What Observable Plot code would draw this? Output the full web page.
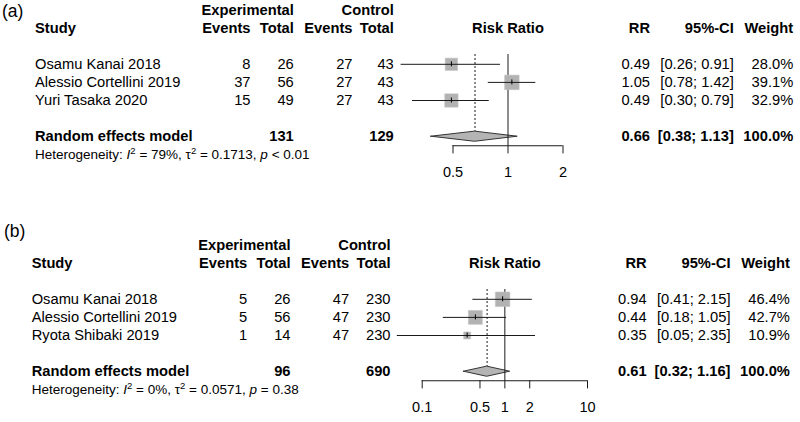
<!DOCTYPE html>
<html><head><meta charset="utf-8">
<script src="https://cdn.jsdelivr.net/npm/d3@7"></script>
<script src="https://cdn.jsdelivr.net/npm/@observablehq/plot@0.6"></script>
<style>
body{margin:0;background:#fff;font-family:"Liberation Sans",Arial,sans-serif;}
.panel{position:relative;width:800px;height:211px;overflow:hidden;}
.lab{position:absolute;font-size:17.5px;line-height:1;color:#000;}
svg{display:block}
</style></head><body>
<div id="pa" class="panel"><div class="lab" style="left:2px;top:3px">(a)</div></div>
<div id="pb" class="panel"><div class="lab" style="left:4px;top:12px">(b)</div></div>
<script>
// ---- Panel (a) data ----
const studiesA = ["Osamu Kanai 2018", "Alessio Cortellini 2019", "Yuri Tasaka 2020"];
const expEventsA = [8, 37, 15];
const expTotalA = [26, 56, 49];
const ctrlEventsA = [27, 27, 27];
const ctrlTotalA = [43, 43, 43];
const rrA = [0.49, 1.05, 0.49];
const lowerA = [0.26, 0.78, 0.30];
const upperA = [0.91, 1.42, 0.79];
const weightA = [28.0, 39.1, 32.9];
const pooledA = [0.66, 0.38, 1.13];      // RR, lower, upper
const pooledTotalsA = [131, 129];        // experimental, control
const hetA = ["79%", "0.1713", "< 0.01"]; // I2, tau2, p
const ticksA = [0.5, 1, 2];

// ---- Panel (b) data ----
const studiesB = ["Osamu Kanai 2018", "Alessio Cortellini 2019", "Ryota Shibaki 2019"];
const expEventsB = [5, 5, 1];
const expTotalB = [26, 56, 14];
const ctrlEventsB = [47, 47, 47];
const ctrlTotalB = [230, 230, 230];
const rrB = [0.94, 0.44, 0.35];
const lowerB = [0.41, 0.18, 0.05];
const upperB = [2.15, 1.05, 2.35];
const weightB = [46.4, 42.7, 10.9];
const pooledB = [0.61, 0.32, 1.16];
const pooledTotalsB = [96, 690];
const hetB = ["0%", "0.0571", "= 0.38"];
const ticksB = [0.1, 0.5, 1, 2, 10];

const nullValue = 1;

function forest(cfg) {
  const {names, ee, et, ce, ct, rr, lo, hi, w, pooled, totals, het, ticks, xDomain, xRange, yTop, shift} = cfg;
  const rows = names.map((n, i) => ({i, name: n, ee: ee[i], et: et[i], ce: ce[i], ct: ct[i], rr: rr[i], lo: lo[i], hi: hi[i], w: w[i]}));
  const P = names.length + 1; // pooled row index
  const ci = (a, b) => `[${a.toFixed(2)}; ${b.toFixed(2)}]`;
  const cols = [
    {x: 34.5, anchor: "start", h1: null, h2: "Study", f: r => r.name, p: "Random effects model"},
    {x: 250, anchor: "end", h1: null, h2: "Events", f: r => String(r.ee), p: ""},
    {x: 293.3, anchor: "end", h1: "Experimental", h2: "Total", f: r => String(r.et), p: String(totals[0])},
    {x: 352, anchor: "end", h1: null, h2: "Events", f: r => String(r.ce), p: ""},
    {x: 393.3, anchor: "end", h1: "Control", h2: "Total", f: r => String(r.ct), p: String(totals[1])},
    {x: 649.5, anchor: "end", h1: null, h2: "RR", f: r => r.rr.toFixed(2), p: pooled[0].toFixed(2)},
    {x: 733.3, anchor: "end", h1: null, h2: "95%-CI", f: r => ci(r.lo, r.hi), p: ci(pooled[1], pooled[2])},
    {x: 792.7, anchor: "end", h1: null, h2: "Weight", f: r => r.w.toFixed(1) + "%", p: "100.0%"}
  ];
  const fs = 14.7;
  const textMarks = [];
  for (const c of cols) {
    const cells = [];
    if (c.h1) cells.push({y: -3, t: c.h1, b: true});
    cells.push({y: -2, t: c.h2, b: true});
    for (const r of rows) cells.push({y: r.i, t: c.f(r), b: false});
    if (c.p) cells.push({y: P, t: c.p, b: true});
    for (const bold of [true, false]) {
      textMarks.push(Plot.text(cells.filter(d => d.b === bold), {
        y: "y", text: "t", frameAnchor: "left", dx: c.x + shift, textAnchor: c.anchor,
        fontSize: fs, fontWeight: bold ? "bold" : "normal", fill: "#000"
      }));
    }
  }
  const hetText = `Heterogeneity: I2 = ${het[0]}, τ2 = ${het[1]}, p ${het[2]}`;
  const h = 0.28;
  const diamond = [
    {x: pooled[1], y1: P, y2: P},
    {x: pooled[0], y1: P - h, y2: P + h},
    {x: pooled[2], y1: P, y2: P}
  ];
  const ln = "#1a1a1a";
  const plot = Plot.plot({
    width: 800, height: 211, margin: 0,
    style: {fontFamily: "'Liberation Sans', Arial, sans-serif", background: "white", overflow: "visible"},
    x: {type: "log", domain: xDomain, range: xRange, axis: null},
    y: {type: "linear", domain: [0, 4], range: [yTop, yTop + 4 * 18.1], axis: null},
    r: {type: "sqrt", domain: [0, d3.max(w)], range: [0, 8.2]},
    marks: [
      ...textMarks,
      Plot.text([hetText], {y: () => P + 1, text: d => d, frameAnchor: "left", dx: 34.5 + shift, textAnchor: "start", fontSize: 13.5, fill: "#000"}),
      Plot.text([{x: nullValue, y: -2}], {x: "x", y: "y", text: () => "Risk Ratio", fontSize: fs, fontWeight: "bold", fill: "#000"}),
      // reference lines
      Plot.ruleX([pooled[0]], {x: d => d, y1: -0.54, y2: P - h, stroke: ln, strokeDasharray: "2,2"}),
      Plot.areaY(diamond, {x: "x", y1: "y1", y2: "y2", fill: "#b4b4b4", stroke: "#333", strokeWidth: 1}),
      Plot.ruleX([nullValue], {x: d => d, y1: -0.54, y2: P + 0.5, stroke: ln}),
      // study squares & CIs
      Plot.dot(rows, {x: "rr", y: "i", r: "w", symbol: "square", fill: "#b2b2b2", stroke: "#c4c4c4", strokeWidth: 0.6}),
      Plot.ruleY(rows, {y: "i", x1: "lo", x2: "hi", stroke: ln}),
      Plot.ruleX(rows, {x: "rr", y1: d => d.i - 0.14, y2: d => d.i + 0.14, stroke: "#000"}),
      // axis
      Plot.ruleY([P + 0.5], {y: d => d, x1: d3.min(ticks), x2: d3.max(ticks), stroke: ln}),
      Plot.ruleX(ticks, {x: d => d, y1: P + 0.5, y2: P + 0.95, stroke: ln}),
      Plot.text(ticks, {x: d => d, y: () => P + 1.97, text: d => String(d), fontSize: 14.5, fill: "#000"})
    ]
  });
  // rich text for heterogeneity line (italic I/p, superscript 2)
  const ns = "http://www.w3.org/2000/svg";
  d3.select(plot).selectAll("text").each(function () {
    if (!this.textContent.startsWith("Heterogeneity:")) return;
    const t = this;
    t.textContent = "";
    const add = (s, a = {}) => {
      const ts = document.createElementNS(ns, "tspan");
      ts.textContent = s;
      for (const k in a) ts.setAttribute(k, a[k]);
      t.appendChild(ts);
    };
    add("Heterogeneity: ");
    add("I", {"font-style": "italic"});
    add("2", {"font-size": "9.5px", dy: "-5"});
    add(` = ${het[0]}, τ`, {dy: "5"});
    add("2", {"font-size": "9.5px", dy: "-5"});
    add(` = ${het[1]}, `, {dy: "5"});
    add("p", {"font-style": "italic"});
    add(` ${het[2]}`);
  });
  return plot;
}

document.getElementById("pa").appendChild(forest({
  names: studiesA, ee: expEventsA, et: expTotalA, ce: ctrlEventsA, ct: ctrlTotalA,
  rr: rrA, lo: lowerA, hi: upperA, w: weightA, pooled: pooledA, totals: pooledTotalsA, het: hetA,
  ticks: ticksA, xDomain: [0.5, 2], xRange: [452.5, 562.5], yTop: 63.8, shift: 0
}));
document.getElementById("pb").appendChild(forest({
  names: studiesB, ee: expEventsB, et: expTotalB, ce: ctrlEventsB, ct: ctrlTotalB,
  rr: rrB, lo: lowerB, hi: upperB, w: weightB, pooled: pooledB, totals: pooledTotalsB, het: hetB,
  ticks: ticksB, xDomain: [0.1, 10], xRange: [421.7, 587], yTop: 298.8 - 211, shift: -3.3
}));
</script>
</body></html>
